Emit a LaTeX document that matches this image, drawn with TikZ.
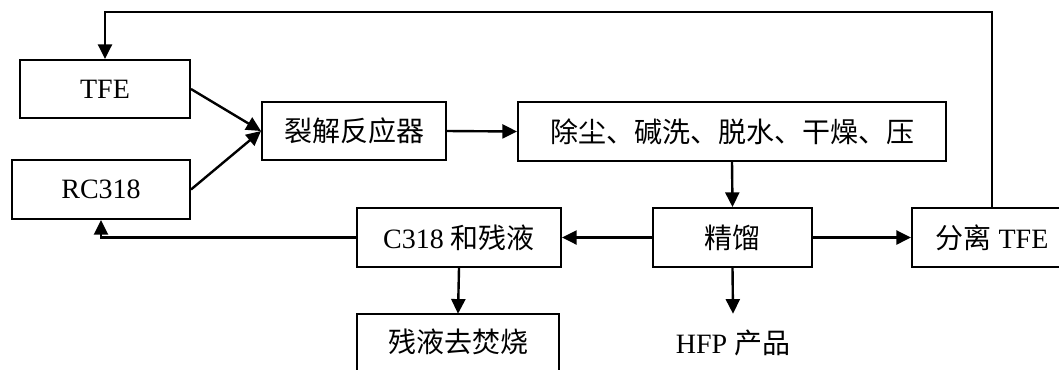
\documentclass[tikz,border=0pt]{standalone}
\usepackage{fontspec}
\setmainfont{Liberation Serif}
\newfontfamily\cjk{Noto Sans CJK SC}
\usetikzlibrary{arrows.meta,calc}
\begin{document}
\begin{tikzpicture}[x=0.75pt,y=-0.75pt,
  box/.style={draw,line width=1.5pt,inner sep=0pt,font=\fontsize{21}{25}\selectfont},
  lbl/.style={inner sep=0pt,font=\fontsize{21}{25}\selectfont},
  flow/.style={line width=1.8pt,-{Triangle[length=11pt,width=10.5pt]}},
  frame/.style={line width=1.5pt}]
\useasboundingbox (0,0) rectangle (1059,369);
\clip (0,0) rectangle (1059,369);
\fill[white] (0,0) rectangle (1059,369);
\node[box,minimum width=170*0.75pt,minimum height=58*0.75pt] (tfe) at (105,89) {TFE};
\node[box,minimum width=178*0.75pt,minimum height=59*0.75pt] (rc) at (101,189.5) {RC318};
\node[box,minimum width=184*0.75pt,minimum height=58*0.75pt] (lj) at (354,131) {\cjk 裂解反应器};
\node[box,minimum width=428*0.75pt,minimum height=59*0.75pt] (cc) at (732,131.5) {\cjk 除尘、碱洗、脱水、干燥、压};
\node[box,minimum width=204*0.75pt,minimum height=59*0.75pt] (c318) at (459,237.5) {C318 {\cjk 和残液}};
\node[box,minimum width=159*0.75pt,minimum height=59*0.75pt] (jl) at (732.5,237.5) {\cjk 精馏};
\node[box,minimum width=160*0.75pt,minimum height=59*0.75pt] (fl) at (992,237.5) {{\cjk 分离} TFE};
\node[lbl,minimum width=202*0.75pt,minimum height=56*0.75pt] (cy) at (458,342) {\cjk 残液去焚烧};
\draw[frame] ($(cy.south west)+(0,12)$) |- (cy.north east) -- ($(cy.south east)+(0,12)$);
\node[lbl,minimum height=58*0.75pt] (hfp) at (733,343) {HFP {\cjk 产品}};
\coordinate (topr) at (992,12);
\draw[flow] (fl.north) -- (topr) -| (tfe.north);
\draw[flow] (tfe.east) -- (lj.west);
\draw[flow] (rc.east) -- (lj.west);
\draw[flow] (lj.east) -- (cc.west);
\draw[flow] (cc.south) -- (jl.north);
\draw[flow] (jl.west) -- (c318.east);
\draw[flow] (jl.east) -- (fl.west);
\draw[flow] (jl.south) -- (hfp.north);
\draw[flow] (c318.south) -- (cy.north);
\draw[flow] (c318.west) -| (rc.south);
\end{tikzpicture}
\end{document}
